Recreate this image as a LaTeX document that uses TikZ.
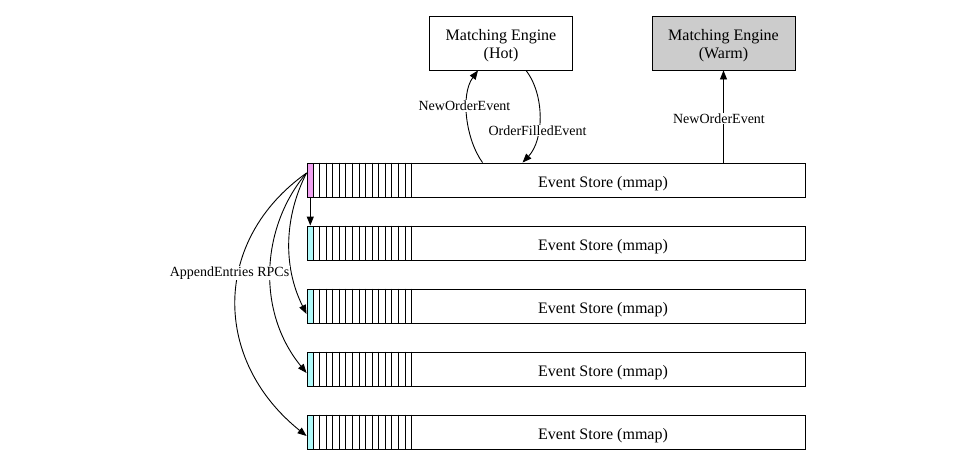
\documentclass[tikz,border=0pt]{standalone}
\usepackage{fontspec}
\setmainfont{Liberation Serif}
\usetikzlibrary{arrows.meta}
\definecolor{headpink}{RGB}{240,160,240}
\definecolor{headcyan}{RGB}{175,250,250}
\definecolor{warmgray}{RGB}{204,204,204}
\begin{document}
\begin{tikzpicture}[x=1pt, y=-1pt, line width=0.9pt,
		engine/.style={draw, minimum width=143pt, minimum height=54pt, inner sep=0pt},
		enginetext/.style={align=center, yshift=-3pt, font=\fontsize{16}{18}\selectfont},
		store/.style={draw, minimum width=498pt, minimum height=34pt, inner sep=0pt},
		headcell/.style={draw, minimum width=6.56pt, minimum height=34pt, inner sep=0pt},
		lbl/.style={fill=white, inner sep=1pt, font=\fontsize{14}{16}\selectfont},
		arr/.style={-{Triangle[length=9pt,width=7pt]}}]
		\useasboundingbox (0,0) rectangle (980,463);
		
		% Matching engines
		\node[engine, label={[enginetext]center:Matching Engine\\(Hot)}] (hot) at (501,43) {};
		\node[engine, fill=warmgray, label={[enginetext]center:Matching Engine\\(Warm)}] (warm) at (723.5,43) {};
		
		% Event stores
		\foreach \i/\c in {1/headpink, 2/headcyan, 3/headcyan, 4/headcyan, 5/headcyan} {
			\node[store] (store\i) at (556, {180+63*(\i-1)}) {};
			\node[headcell, fill=\c, anchor=west] (head\i) at (store\i.west) {};
			\foreach \k in {2,...,16} {
				\draw ([xshift={6.56pt*\k}]store\i.north west) -- ([xshift={6.56pt*\k}]store\i.south west);
			}
			\node[font=\fontsize{16}{18}\selectfont] (name\i) at (603, {183.5+63*(\i-1)}) {Event Store (mmap)};
		}
		
		% Hot engine
		\draw[arr] ([xshift=176pt]store1.north west) .. controls (466,140) and (460,95) .. ([xshift=-23pt]hot.south);
		\draw[arr] ([xshift=25pt]hot.south) .. controls (545,95) and (544,140) .. ([xshift=216pt]store1.north west);
		\node[lbl] (neworder) at (464.5,106) {NewOrderEvent};
		\node[lbl] (filled) at (537.5,130.5) {OrderFilledEvent};
		
		% Warm engine
		\draw[arr] (store1.north -| warm.south) -- (warm.south);
		\node[lbl] (neworderwarm) at (719,118.5) {NewOrderEvent};
		
		% Replication
		\coordinate (src) at ([yshift=7pt]head1.west);
		\draw[arr] (head1.south) -- (head2.north);
		\draw[arr] (src) .. controls (285,215) and (282,265) .. ([yshift=-8pt]head3.west);
		\draw[arr] (src) .. controls (262,225) and (255,310) .. ([yshift=-4pt]head4.west);
		\draw[arr] (src) .. controls (212,240) and (212,360) .. ([yshift=-4pt]head5.west);
		\node[lbl] (rpcs) at (229.5,273) {AppendEntries RPCs};
	\end{tikzpicture}
\end{document}
